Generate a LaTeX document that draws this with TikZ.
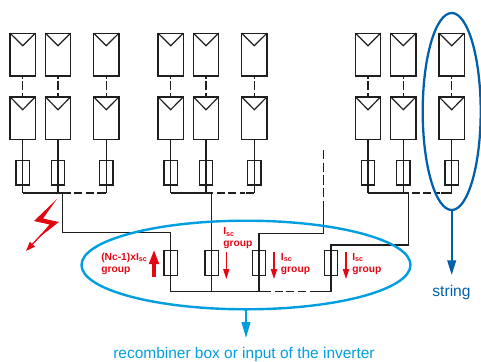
\documentclass[tikz,border=0pt]{standalone}
\usepackage{fontspec}
\setmainfont{Liberation Sans}
\usetikzlibrary{arrows.meta}
\definecolor{redc}{RGB}{227,6,19}
\definecolor{cyanc}{RGB}{0,158,224}
\definecolor{bluec}{RGB}{0,97,170}
\definecolor{wirec}{RGB}{30,30,30}
\tikzset{
 x=0.75pt,y=-0.75pt,
 wire/.style={draw=wirec,line width=0.9pt},
 dashwire/.style={wire,dash pattern=on 6pt off 2.6pt},
 paneldash/.style={wire,dash pattern=on 2.2pt off 2pt on 6.6pt off 2pt on 3pt},
 panelbox/.style={draw=wirec,line width=1pt,minimum width=19pt,minimum height=32pt,inner sep=0pt,outer sep=0pt,rectangle},
 fusebox/.style={draw=wirec,line width=1pt,minimum width=10pt,minimum height=18.5pt,inner sep=0pt,outer sep=0pt,rectangle},
 redlabel/.style={text=redc,font=\fontsize{7.7pt}{9pt}\selectfont\bfseries,align=left,inner sep=0pt},
 thinred/.style={draw=redc,line width=1pt,-{Triangle[length=7.5pt,width=4.6pt]}},
}
\newcommand{\pvstring}[2]{%
 \node[panelbox] (p#1a) at (#2,54.5) {};
 \node[panelbox] (p#1b) at (#2,118.2) {};
 \node[fusebox,minimum height=18.5pt] (f#1) at (#2,172.8) {};
 \draw[wire] (p#1a.north west) -- (#2,45.7) -- (p#1a.north east);
 \draw[wire] (p#1b.north west) -- (#2,109.7) -- (p#1b.north east);
 \draw[paneldash] (p#1a.south) -- (p#1b.north);
 \draw[wire] (p#1b.south) -- (#2,193);
}
\begin{document}
\begin{tikzpicture}
\useasboundingbox (0,0) rectangle (481,361);
\pvstring{a}{22.7}
\pvstring{b}{58}
\pvstring{c}{106.3}
\pvstring{d}{170.7}
\pvstring{e}{206}
\pvstring{f}{254.3}
\pvstring{g}{368}
\pvstring{h}{403.3}
\pvstring{i}{451.7}
% buses
\coordinate (bab) at (58,193);
\coordinate (bca) at (106.3,193);
\draw[wire] (22.7,193) -- (bab) -- (62.5,193);
\draw[dashwire] (63,193) -- (97,193);
\draw[wire] (97,193) -- (bca);
\draw[wire] (170.7,193) -- (213,193);
\draw[dashwire] (217,193) -- (245,193);
\draw[wire] (246,193) -- (254.3,193);
\draw[wire] (368,193) -- (408.7,193);
\draw[dashwire] (412,193) -- (440,193);
\draw[wire] (441,193) -- (451.7,193);
% recombiner fuses
\node[fusebox,minimum height=18.7pt] (ra) at (170.7,262.8) {};
\node[fusebox,minimum height=18.7pt] (rb) at (211.7,262.8) {};
\node[fusebox,minimum height=18.7pt] (rc) at (259,262.8) {};
\node[fusebox,minimum height=18.7pt] (rd) at (331,262.8) {};
\draw[wire] (62.5,193) -- (62.5,232.7) -- (170.7,232.7) -- (170.7,291.7);
\draw[wire] (211.7,193) -- (211.7,291.7);
\draw[wire] (259,291.7) -- (259,233.5) -- (323.7,233.5) -- (323.7,205);
\draw[wire,dash pattern=on 7pt off 2.5pt] (323.7,150) -- (323.7,205);
\draw[wire] (331,291.7) -- (331,245) -- (408.7,245) -- (408.7,193);
\draw[wire] (170.7,291.7) -- (271,291.7);
\draw[dashwire] (275,291.7) -- (309,291.7);
\draw[wire] (310,291.7) -- (331,291.7);
% ellipses
\draw[cyanc,line width=1.8pt] (246,265) ellipse [x radius=164.5,y radius=44.3];
\draw[bluec,line width=1.7pt] (451.7,111.5) ellipse [x radius=29,y radius=98.5];
\coordinate (cya) at (246,309.3);
\coordinate (cyb) at (246,338);
\draw[cyanc,line width=1.5pt,-{Triangle[length=12pt,width=6.5pt]}] (cya) -- (cyb);
\coordinate (bla) at (451.7,210);
\coordinate (blb) at (451.7,275);
\draw[bluec,line width=1.5pt,-{Triangle[length=11pt,width=6.5pt]}] (bla) -- (blb);
\node[text=bluec,font=\fontsize{11.7pt}{14pt}\selectfont,inner sep=0pt] (stringl) at (451.5,292) {string};
\node[text=cyanc,font=\fontsize{11.6pt}{14pt}\selectfont,inner sep=0pt] (recl) at (244,354) {recombiner box or input of the inverter};
% red
\node[redlabel,anchor=west] (l1) at (101,264) {(Nc-1)xI\textsubscript{sc}\\group};
\node[redlabel,anchor=west] (l2) at (223,238.5) {I\textsubscript{sc}\\group};
\node[redlabel,anchor=west] (l3) at (280.7,264) {I\textsubscript{sc}\\group};
\node[redlabel,anchor=west] (l4) at (352,264) {I\textsubscript{sc}\\group};
\coordinate (u1) at (154,277);
\coordinate (u2) at (154,249.5);
\draw[redc,line width=3.3pt,-{Triangle[length=11pt,width=7pt]}] (u1) -- (u2);
\coordinate (d2a) at (226.3,252);\coordinate (d2b) at (226.3,279);
\coordinate (d3a) at (274,252);\coordinate (d3b) at (274,279);
\coordinate (d4a) at (346,252);\coordinate (d4b) at (346,279);
\draw[thinred] (d2a) -- (d2b);
\draw[thinred] (d3a) -- (d3b);
\draw[thinred] (d4a) -- (d4b);
% lightning
\fill[redc] (57,199) -- (34,221) -- (49.5,224.5) -- (37,239) -- (59,222) -- (43,218.5) -- cycle;
\coordinate (la) at (42,234);\coordinate (lb) at (26,251);
\draw[redc,line width=0.95pt,-{Triangle[length=7pt,width=5pt]}] (la) -- (lb);
\end{tikzpicture}
\end{document}
